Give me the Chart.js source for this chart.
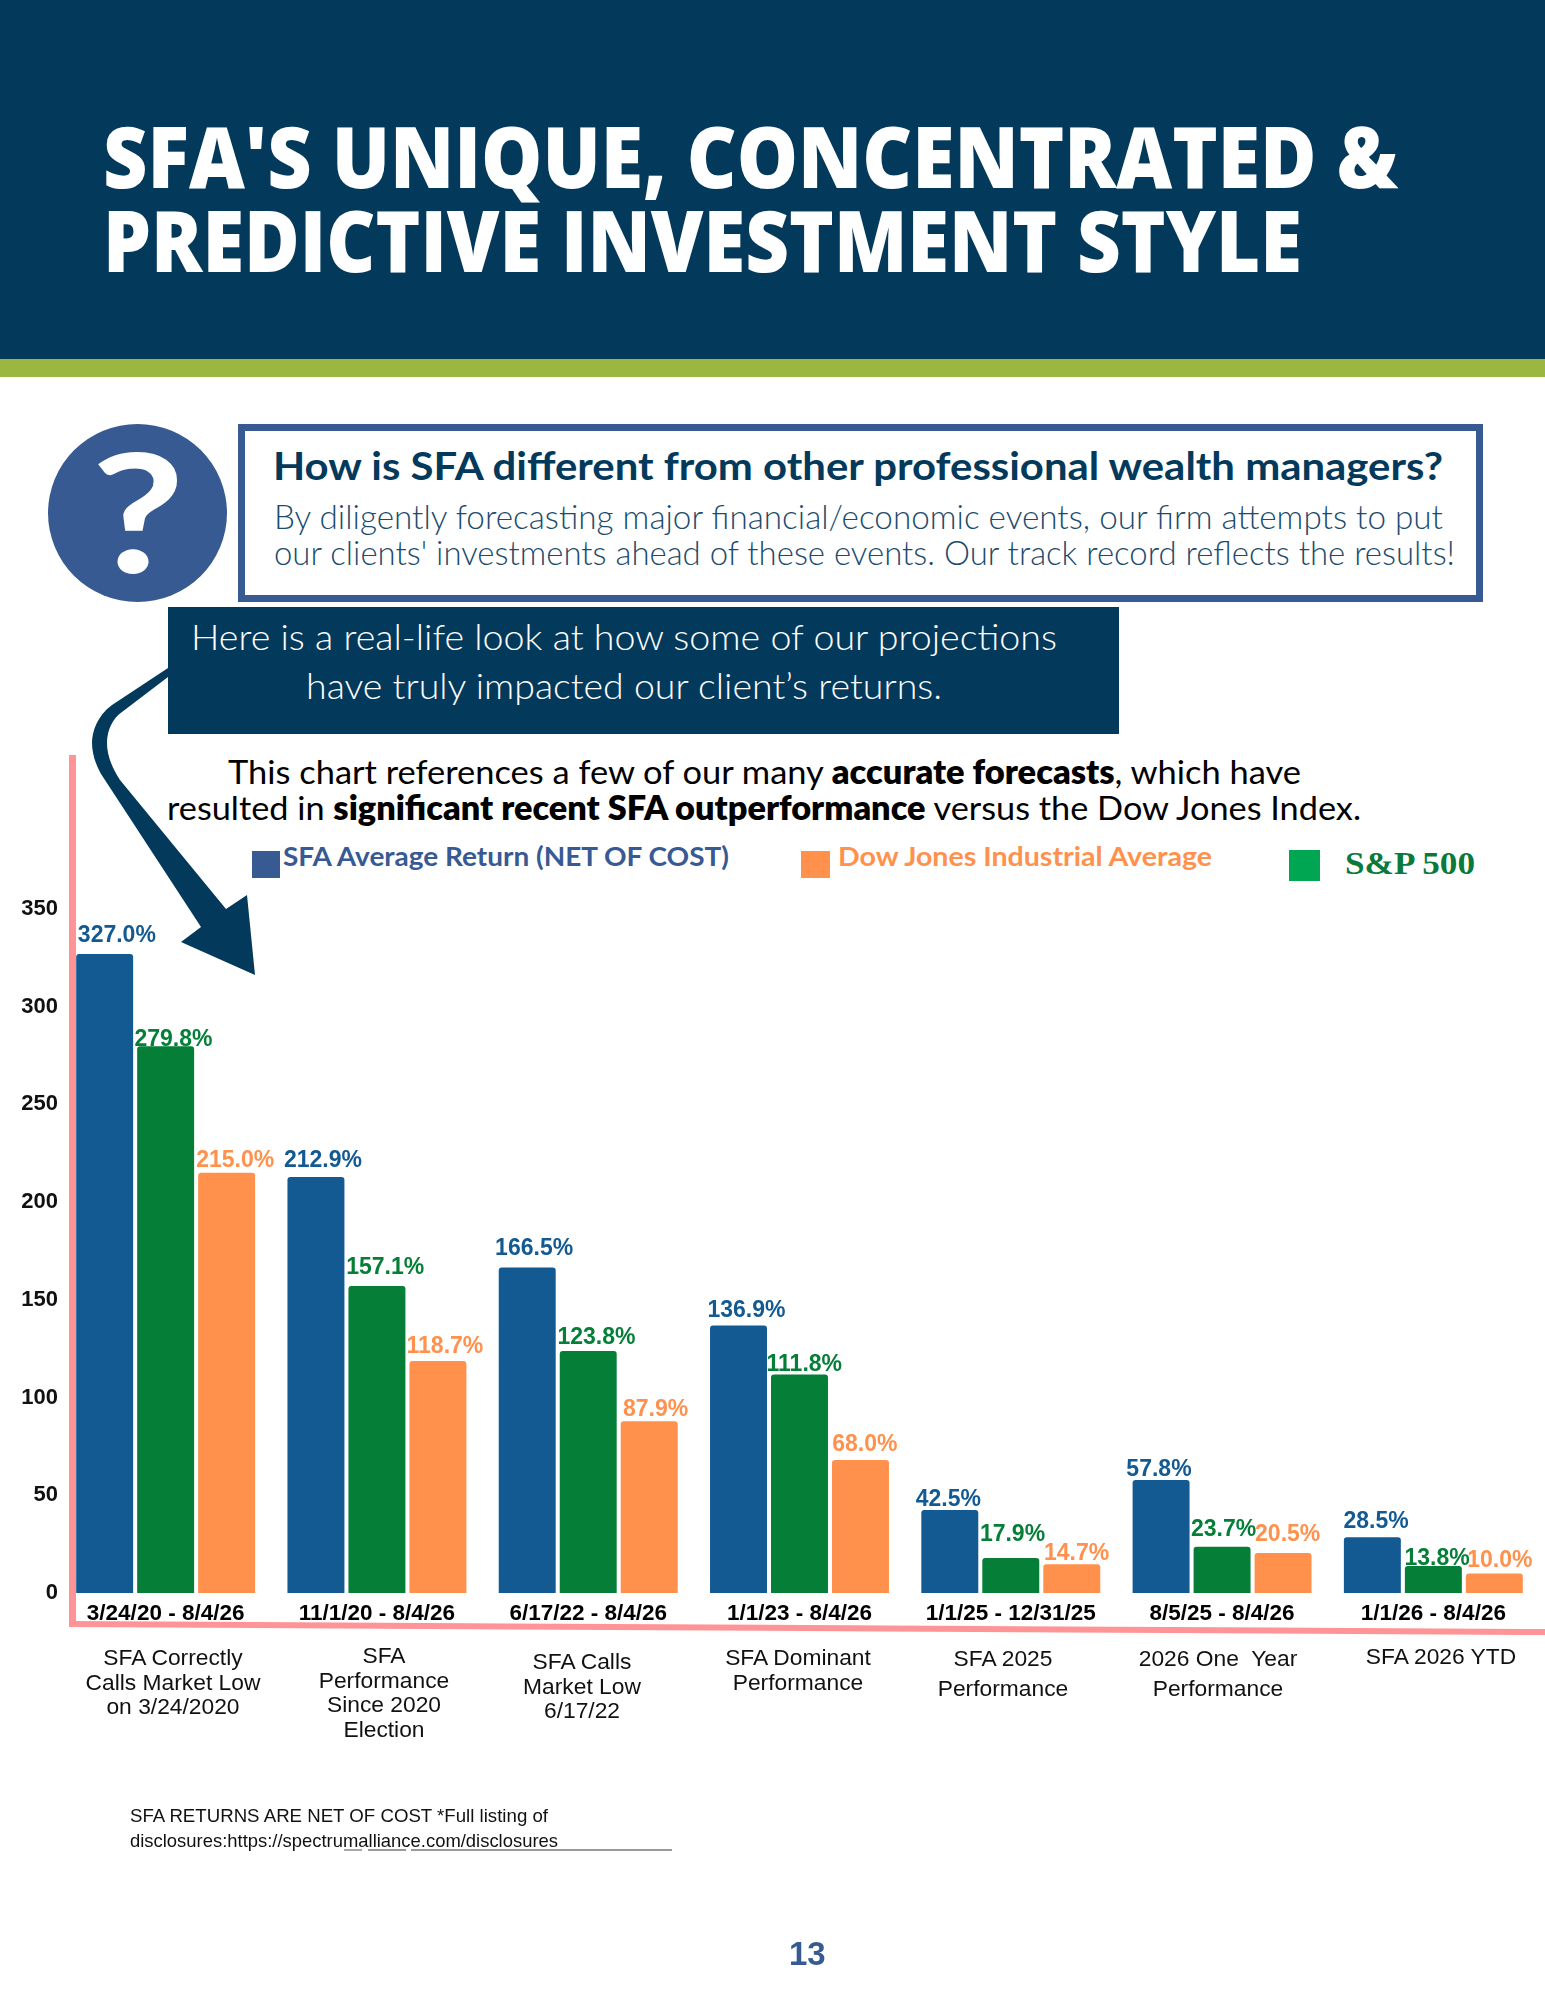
<!DOCTYPE html>
<html>
<head>
<meta charset="utf-8">
<title>SFA Investment Style</title>
<script src="https://cdn.jsdelivr.net/npm/chart.js@4"></script>
<style>
html, body { margin: 0; padding: 0; background: #fff; }
#page { position: relative; width: 1545px; height: 1999px; overflow: hidden; background: #fff; font-family: "Liberation Sans", Arial, sans-serif; }
#page div.abs, #page span.abs { position: absolute; white-space: pre; transform-origin: left top; }
.block { position: absolute; }
#header { left: 0; top: 0; width: 1545px; height: 359px; background: #033a5c; }
#strip { left: 0; top: 359px; width: 1545px; height: 18px; background: #9bb73f; }
#qcircle { left: 48px; top: 424px; width: 179px; height: 178px; border-radius: 50%; background: #375a92; }
#qbox { left: 238px; top: 424px; width: 1231px; height: 164px; border: 7px solid #375a92; background: #fff; }
#callout { left: 168px; top: 607px; width: 951px; height: 127px; background: #033a5c; }
.title { font: 800 85px "Open Sans"; color: #fff; line-height: 85px; }
.head { font: 700 39px Lato; color: #033a5c; line-height: 40px; }
.body { font: 300 33px Lato; color: #1c4b6c; line-height: 36px; }
.call { font: 300 36px Lato; color: #fff; line-height: 40px; }
.para { font: 400 33px Lato; color: #000; line-height: 36px; }
.para b { font-weight: 800; }
.leg { font: 700 27px Lato; line-height: 30px; }
.swatch { position: absolute; }
.desc { font: 22.8px "Liberation Sans"; color: #111; line-height: 24.5px; text-align: center; }
.foot { font: 18.6px "Liberation Sans"; color: #111; line-height: 20px; }
canvas { position: absolute; left: 0; top: 880px; }
svg { position: absolute; left: 0; top: 0; }
</style>
</head>
<body>
<div id="page">
  <div class="block" id="header"></div>
  <div class="block" id="strip"></div>
  <div class="abs title" style="left:103px;top:113px" data-w="1295">SFA'S UNIQUE, CONCENTRATED &amp;</div>
  <div class="abs title" style="left:103px;top:197px" data-w="1199">PREDICTIVE INVESTMENT STYLE</div>

  <div class="block" id="qcircle"></div>
  <div class="abs" style="left:91px;top:414px;font:700 165px Lato;color:#fff;line-height:190px" data-w="94">?</div>
  <div class="block" id="qbox"></div>
  <div class="abs head" style="left:273px;top:445px" data-w="1170">How is SFA different from other professional wealth managers?</div>
  <div class="abs body" style="left:274px;top:498px" data-w="1169">By diligently forecasting major financial/economic events, our firm attempts to put</div>
  <div class="abs body" style="left:274px;top:534px" data-w="1181">our clients' investments ahead of these events. Our track record reflects the results!</div>

  <div class="block" id="callout"></div>
  <div class="abs call" style="left:191px;top:616px" data-w="866">Here is a real-life look at how some of our projections</div>
  <div class="abs call" style="left:306px;top:665px" data-w="636">have truly impacted our client’s returns.</div>

  <div class="abs para" style="left:228px;top:753px" data-w="1073">This chart references a few of our many <b>accurate forecasts</b>, which have</div>
  <div class="abs para" style="left:167px;top:789px" data-w="1194">resulted in <b>significant recent SFA outperformance</b> versus the Dow Jones Index.</div>

  <div class="swatch" style="left:252px;top:851px;width:28px;height:27px;background:#375a92"></div>
  <div class="abs leg" style="left:283px;top:841px;color:#375a92" data-w="446">SFA Average Return (NET OF COST)</div>
  <div class="swatch" style="left:801px;top:851px;width:29px;height:27px;background:#ff914d"></div>
  <div class="abs leg" style="left:838px;top:841px;color:#ff914d" data-w="374">Dow Jones Industrial Average</div>
  <div class="swatch" style="left:1289px;top:850px;width:31px;height:31px;background:#00a651"></div>
  <div class="abs" style="left:1345px;top:845px;font:700 32px 'Liberation Serif';color:#0a7a3c;line-height:36px" data-w="130">S&amp;P 500</div>

  <canvas id="chart" width="1545" height="760"></canvas>

  <svg width="1545" height="1999">
    <path fill="#033a5c" d="M168,668 L112,705 C97,716 92,732 92,743 C92,755 97,768 103,777 L201,927 L181,942 L255,975 L247,895 L226,909 L120,780 C112,768 107,755 107,743 C107,730 113,718 122,712 L168,677 Z"/>
    <line x1="72.5" y1="755" x2="72.5" y2="1627" stroke="#ff9496" stroke-width="7"/>
    <line x1="70" y1="1624" x2="1545" y2="1632" stroke="#ff9496" stroke-width="6"/>
    <line x1="344" y1="1850" x2="362" y2="1850" stroke="#777" stroke-width="1.3"/>
    <line x1="368" y1="1850" x2="406" y2="1850" stroke="#777" stroke-width="1.3"/>
    <line x1="411" y1="1850" x2="672" y2="1850" stroke="#777" stroke-width="1.3"/>
  </svg>

  <div id="descs"></div>
  <div class="abs foot" style="left:130px;top:1806px" data-w="418">SFA RETURNS ARE NET OF COST *Full listing of</div>
  <div class="abs foot" style="left:130px;top:1831px" data-w="428">disclosures:https://spectrumalliance.com/disclosures</div>
  <div class="abs" style="left:789px;top:1935px;font:700 33px 'Liberation Sans';color:#375a92;line-height:38px">13</div>
</div>

<script>
// Chart values
const periodos = ['3/24/20 - 8/4/26', '11/1/20 - 8/4/26', '6/17/22 - 8/4/26', '1/1/23 - 8/4/26', '1/1/25 - 12/31/25', '8/5/25 - 8/4/26', '1/1/26 - 8/4/26'];
const sfaValues = [327.0, 212.9, 166.5, 136.9, 42.5, 57.8, 28.5];
const sp500Values = [279.8, 157.1, 123.8, 111.8, 17.9, 23.7, 13.8];
const dowValues = [215.0, 118.7, 87.9, 68.0, 14.7, 20.5, 10.0];
const yTicks = [0, 50, 100, 150, 200, 250, 300, 350];

const descripciones = [
    ['SFA Correctly', 'Calls Market Low', 'on 3/24/2020'],
    ['SFA', 'Performance', 'Since 2020', 'Election'],
    ['SFA Calls', 'Market Low', '6/17/22'],
    ['SFA Dominant', 'Performance'],
    ['SFA 2025', 'Performance'],
    ['2026 One  Year', 'Performance'],
    ['SFA 2026 YTD']
];

// Layout only: where each description block sits, and its line spacing
const descX = [173, 384, 582, 798, 1003, 1218, 1441];
const descTop = [1645, 1643, 1649, 1645, 1646, 1646, 1644];
const descLine = [24.5, 24.5, 24.5, 24.5, 30, 30, 24.5];

// Hand placement of the value labels, relative to the top centre of the bar
const labelDx = [
    [12.2, 7, 6.9, 7.9, -1.5, -2.1, 3.7],
    [7.8, 8.2, 8.2, 4.8, 1.7, 1.5, 3.7],
    [8.5, 7, 6.4, 4.4, 4.8, 4.6, 5.5]
];
const labelDy = [
    [-18, -16.7, -18.5, -15, -10.5, -10.4, -15.4],
    [-7, -18.5, -13, -10, -23, -17.4, -7.7],
    [-12, -14.5, -11.6, -15, -11, -18, -13]
];

const azul = '#135a93';
const verde = '#057f38';
const naranja = '#ff914d';

// Fit the approximated fonts to the width of the original text
document.querySelectorAll('[data-w]').forEach(el => {
    const real = el.getBoundingClientRect().width;
    el.style.transform = 'scaleX(' + (parseFloat(el.dataset.w) / real) + ')';
});

// Description lines under the axis
const cont = document.getElementById('descs');
descripciones.forEach((lineas, i) => {
    lineas.forEach((txt, j) => {
        const d = document.createElement('div');
        d.className = 'abs desc';
        d.textContent = txt;
        d.style.left = (descX[i] - 150) + 'px';
        d.style.width = '300px';
        d.style.top = (descTop[i] + j * descLine[i]) + 'px';
        cont.appendChild(d);
    });
});

// Value labels on top of the bars
const etiquetas = {
    id: 'etiquetas',
    afterDatasetsDraw(chart) {
        const ctx = chart.ctx;
        ctx.save();
        ctx.font = 'bold 23px "Liberation Sans"';
        ctx.textAlign = 'center';
        ctx.textBaseline = 'middle';
        chart.data.datasets.forEach((ds, s) => {
            ctx.fillStyle = ds.backgroundColor;
            chart.getDatasetMeta(s).data.forEach((bar, i) => {
                ctx.fillText(ds.data[i].toFixed(1) + '%', bar.x + labelDx[s][i], bar.y + labelDy[s][i]);
            });
        });
        ctx.restore();
    }
};

const chart = new Chart(document.getElementById('chart').getContext('2d'), {
    type: 'bar',
    plugins: [etiquetas],
    data: {
        labels: periodos,
        datasets: [
            { label: 'SFA Average Return (NET OF COST)', data: sfaValues, backgroundColor: azul },
            { label: 'S&P 500', data: sp500Values, backgroundColor: verde },
            { label: 'Dow Jones Industrial Average', data: dowValues, backgroundColor: naranja }
        ]
    },
    options: {
        responsive: false,
        animation: false,
        devicePixelRatio: 1,
        layout: { padding: { top: 29, right: 6, bottom: 7, left: 0 } },
        datasets: {
            bar: {
                categoryPercentage: 0.866,
                barPercentage: 0.934,
                borderRadius: { topLeft: 3, topRight: 3, bottomLeft: 0, bottomRight: 0 }
            }
        },
        scales: {
            x: {
                grid: { display: false, drawTicks: false },
                border: { display: false },
                afterFit: (s) => { s.height = 40; },
                ticks: {
                    color: '#000',
                    padding: 7,
                    maxRotation: 0,
                    autoSkip: false,
                    font: { family: '"Liberation Sans"', weight: 'bold', size: 22.5 }
                }
            },
            y: {
                min: 0,
                max: 350,
                afterFit: (s) => { s.width = 60; },
                afterBuildTicks: (s) => { s.ticks = yTicks.map(v => ({ value: v })); },
                grid: { display: false, drawTicks: false },
                border: { display: false },
                ticks: {
                    color: '#111',
                    padding: 2,
                    font: { family: '"Liberation Sans"', weight: 'bold', size: 22 }
                }
            }
        },
        plugins: {
            legend: { display: false },
            title: { display: false },
            tooltip: { enabled: false }
        }
    }
});
</script>
</body>
</html>
